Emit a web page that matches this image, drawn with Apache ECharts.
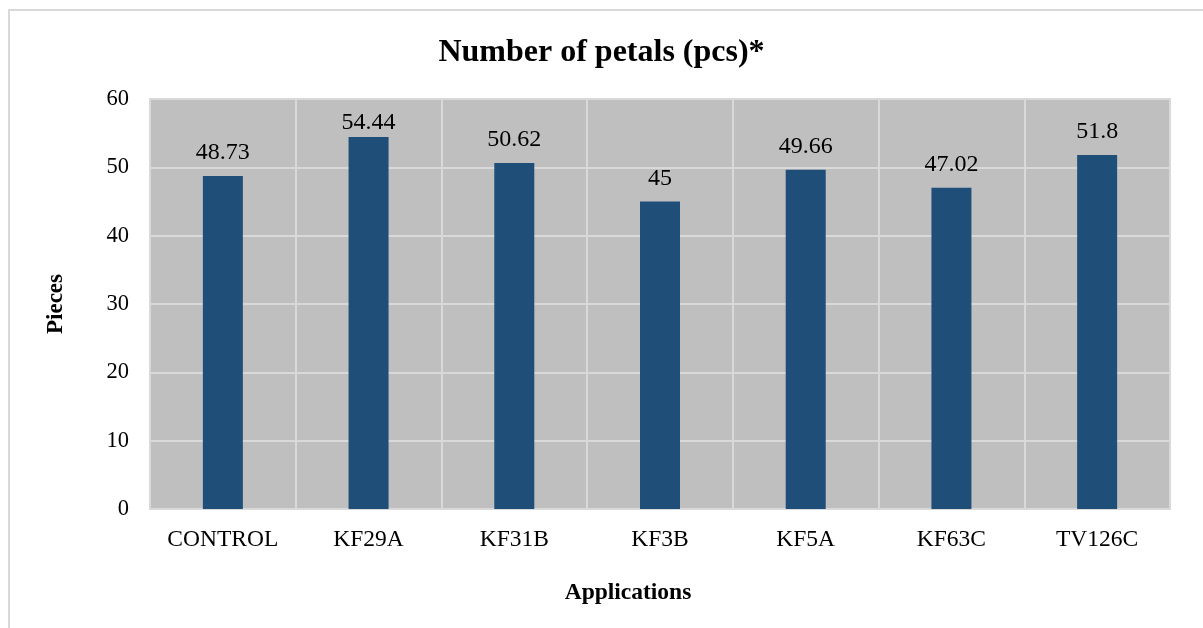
<!DOCTYPE html>
<html>
<head>
<meta charset="utf-8">
<script src="https://cdn.jsdelivr.net/npm/echarts@6/dist/echarts.min.js"></script>
<style>
  html, body { margin: 0; padding: 0; background: #fff; }
  #chart { width: 1203px; height: 628px; }
</style>
</head>
<body>
<div id="chart"></div>
<script>
// Petal counts per application
const categories = ['CONTROL', 'KF29A', 'KF31B', 'KF3B', 'KF5A', 'KF63C', 'TV126C'];
const petals = [48.73, 54.44, 50.62, 45, 49.66, 47.02, 51.8];
const yTicks = { min: 0, max: 60, interval: 10 };

const serif = '"Liberation Serif", "Times New Roman", serif';
const gridTop = 99, gridBottom = 119, chartH = 628;
const plotH = chartH - gridTop - gridBottom;

// Value labels sit above each bar, but are kept inside the plot area
function labelDistance(v) {
  const room = (yTicks.max - v) / (yTicks.max - yTicks.min) * plotH;
  return Math.max(2, Math.min(11, room - 36));
}

const chart = echarts.init(document.getElementById('chart'));

chart.setOption({
  backgroundColor: '#fff',
  animation: false,
  graphic: [{
    type: 'rect',
    shape: { x: 9, y: 10, width: 1300, height: 700 },
    style: { fill: 'none', stroke: '#d9d9d9', lineWidth: 2 },
    silent: true
  }],
  title: {
    text: 'Number of petals (pcs)*',
    left: 'center',
    top: 32,
    textStyle: { fontFamily: serif, fontSize: 32, fontWeight: 'bold', color: '#000' }
  },
  grid: {
    left: 150, right: 33, top: gridTop, bottom: gridBottom,
    show: true,
    backgroundColor: '#bfbfbf',
    borderColor: '#d9d9d9',
    borderWidth: 2
  },
  xAxis: {
    type: 'category',
    data: categories,
    name: 'Applications',
    nameLocation: 'middle',
    nameGap: 72,
    nameTextStyle: {
      fontFamily: serif, fontSize: 23.5, fontWeight: 'bold', color: '#000',
      padding: [0, 64, 0, 0]
    },
    axisLine: { show: false },
    axisTick: { show: false },
    axisLabel: { fontFamily: serif, fontSize: 23.5, color: '#000', margin: 19 },
    splitLine: { show: true, lineStyle: { color: '#d9d9d9', width: 2 } }
  },
  yAxis: {
    type: 'value',
    min: yTicks.min,
    max: yTicks.max,
    interval: yTicks.interval,
    name: 'Pieces',
    nameLocation: 'middle',
    nameGap: 82,
    nameTextStyle: { fontFamily: serif, fontSize: 23, fontWeight: 'bold', color: '#000' },
    axisLine: { show: false },
    axisTick: { show: false },
    axisLabel: { fontFamily: serif, fontSize: 22.5, color: '#000', margin: 21 },
    splitLine: { show: true, lineStyle: { color: '#d9d9d9', width: 2 } }
  },
  series: [{
    type: 'bar',
    data: petals.map(v => ({ value: v, label: { distance: labelDistance(v) } })),
    barWidth: 40,
    itemStyle: { color: '#1f4e79' },
    label: {
      show: true,
      position: 'top',
      fontFamily: serif,
      fontSize: 24,
      color: '#000'
    }
  }]
});
</script>
</body>
</html>
